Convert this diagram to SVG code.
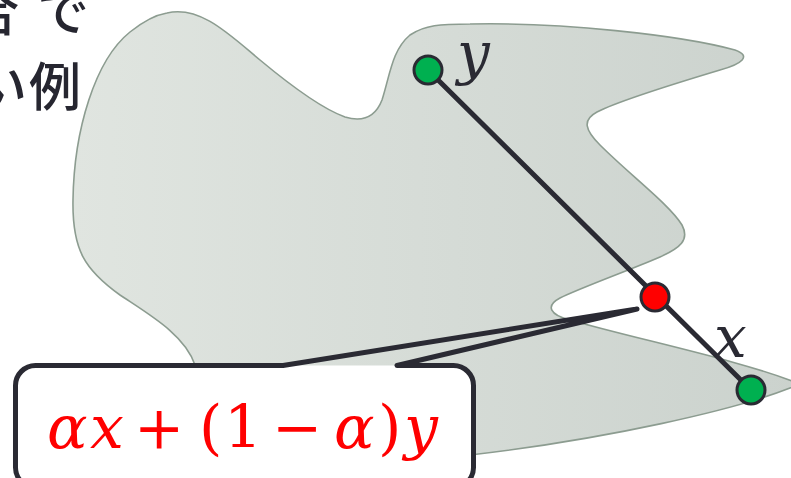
<svg xmlns="http://www.w3.org/2000/svg" width="791" height="478" viewBox="0 0 791 478">
  <style>
    .ink { fill: none; stroke: #2a2a33; stroke-width: 5; stroke-linecap: round; stroke-linejoin: round; }
    .pt { stroke: #2a2a33; stroke-width: 3; }
    .math { font-family: "DejaVu Serif", "Liberation Serif", serif; font-style: italic; fill: #2a2a33; }
    .formula { font-family: "DejaVu Serif", "Liberation Serif", serif; fill: #ff0000; font-size: 60px; }
    .it { font-style: italic; }
    .jp { font-family: "Noto Sans CJK JP", "Noto Sans", sans-serif; font-size: 52px; font-weight: 500; fill: #262630; }
  </style>
  <defs>
    <linearGradient id="blobGrad" x1="0" y1="0" x2="1" y2="0">
      <stop offset="0" stop-color="#e0e5e0"/>
      <stop offset="1" stop-color="#cbd2cd"/>
    </linearGradient>
  </defs>

  <g id="caption">
    <text class="jp"><tspan x="-33" y="31">合</tspan><tspan x="37" y="31">で</tspan></text>
    <text class="jp"><tspan x="-25" y="106">い</tspan><tspan x="29" y="106">例</tspan></text>
  </g>

  <g id="set">
    <path fill="url(#blobGrad)" stroke="#8c9c90" stroke-width="1.6" d="M 167,13 C 200,5 230,35 260,60 C 290,85 320,108 345,117 C 362,122 375,118 382,100 C 390,75 392,50 410,35 C 425,25 440,24 470,24 C 560,22 680,35 735,50 C 752,56 742,64 720,70 C 680,82 620,100 597,112 C 582,120 585,130 600,145 C 630,175 670,205 682,225 C 690,240 680,248 660,257 C 630,270 580,288 560,298 C 545,306 550,315 570,320 C 640,340 740,360 800,384 C 740,410 600,440 470,455 C 400,462 260,470 200,470 L 195,365 C 185,335 150,315 120,295 C 85,270 72,250 73,200 C 74,130 95,60 130,32 C 145,20 155,15 167,13 Z"/>
  </g>

  <g id="connectors">
    <line class="ink" x1="428" y1="70" x2="751" y2="390"/>
  </g>

  <g id="point-y">
    <circle class="pt" cx="428" cy="70" r="14" fill="#00b050"/>
    <text class="math" x="457" y="73" font-size="58">y</text>
  </g>

  <g id="point-x">
    <circle class="pt" cx="751" cy="390" r="14" fill="#00b050"/>
    <text class="math" x="714" y="357" font-size="58">x</text>
  </g>

  <g id="point-mix">
    <circle class="pt" cx="655" cy="297" r="14" fill="#ff0000"/>
  </g>

  <g id="callout">
    <rect x="15.5" y="365.5" width="458" height="122" rx="20" fill="#ffffff"/>
    <path class="ink" d="M 637,309 L 397,365.5 L 453.5,365.5 A 20 20 0 0 1 473.5,385.5 L 473.5,467.5 A 20 20 0 0 1 453.5,487.5 L 35.5,487.5 A 20 20 0 0 1 15.5,467.5 L 15.5,385.5 A 20 20 0 0 1 35.5,365.5 L 283,365.5 L 637,309"/>
    <text class="formula" y="448"><tspan class="it" x="47">α</tspan><tspan class="it" x="90">x</tspan><tspan x="134">+</tspan><tspan x="199">(</tspan><tspan x="224">1</tspan><tspan x="272">−</tspan><tspan class="it" x="334">α</tspan><tspan x="378">)</tspan><tspan class="it" x="404">y</tspan></text>
  </g>
</svg>
